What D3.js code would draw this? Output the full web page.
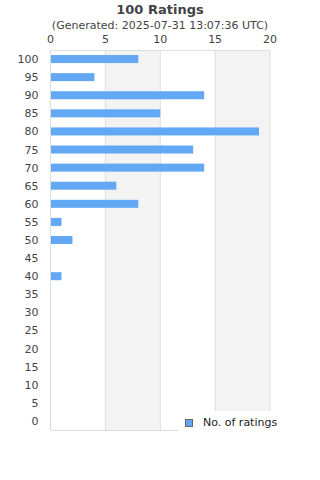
<!DOCTYPE html>
<html>
<head>
<meta charset="utf-8">
<script src="https://cdn.jsdelivr.net/npm/d3@7"></script>
<style>
  body { margin: 0; background: #fff; }
  svg { font-family: "DejaVu Sans", sans-serif; }
</style>
</head>
<body>
<div id="chart"></div>
<script>
// rating buckets, top to bottom
var ratings = [100, 95, 90, 85, 80, 75, 70, 65, 60, 55, 50, 45, 40, 35, 30, 25, 20, 15, 10, 5, 0];
var counts = [8, 4, 14, 10, 19, 13, 14, 6, 8, 1, 2, 0, 1, 0, 0, 0, 0, 0, 0, 0, 0];
var xTicks = [0, 5, 10, 15, 20];
var title = "100 Ratings";
var subtitle = "(Generated: 2025-07-31 13:07:36 UTC)";
var seriesName = "No. of ratings";

var width = 320, height = 480;
var margin = {top: 50, right: 50, bottom: 50, left: 50.5};

var svg = d3.select("#chart").append("svg")
    .attr("width", width)
    .attr("height", height);

var x = d3.scaleLinear()
    .domain([0, 20])
    .range([margin.left, width - margin.right]);

var y = d3.scaleBand()
    .domain(ratings)
    .range([margin.top, height - margin.bottom]);

// alternating background bands
var bands = [[5, 10], [15, 20]];
svg.append("g").selectAll("rect")
    .data(bands)
    .enter().append("rect")
    .attr("x", function(d) { return x(d[0]); })
    .attr("width", function(d) { return x(d[1]) - x(d[0]); })
    .attr("y", margin.top)
    .attr("height", height - margin.bottom - margin.top)
    .attr("fill", "#f3f3f3");

// grid lines
svg.append("g").selectAll("line")
    .data(xTicks)
    .enter().append("line")
    .attr("x1", function(d) { return x(d); })
    .attr("x2", function(d) { return x(d); })
    .attr("y1", margin.top)
    .attr("y2", height - margin.bottom)
    .attr("stroke", "#dddddd")
    .attr("stroke-width", 1);

// top & bottom border
svg.append("line")
    .attr("x1", x(0)).attr("x2", x(20))
    .attr("y1", margin.top + 0.5).attr("y2", margin.top + 0.5)
    .attr("stroke", "#dddddd");
svg.append("line")
    .attr("x1", x(0)).attr("x2", x(20))
    .attr("y1", height - margin.bottom + 0.5).attr("y2", height - margin.bottom + 0.5)
    .attr("stroke", "#dddddd");

// bars
var barH = 8;
svg.append("g").selectAll("rect")
    .data(counts)
    .enter().append("rect")
    .attr("x", x(0) + 0.5)
    .attr("y", function(d, i) { return y(ratings[i]) + y.bandwidth() / 2 - barH / 2; })
    .attr("width", function(d) { return Math.max(0, x(d) - x(0) - 0.5); })
    .attr("height", barH)
    .attr("fill", "#62a8f4");

// top axis labels
svg.append("g").selectAll("text")
    .data(xTicks)
    .enter().append("text")
    .attr("x", function(d) { return x(d); })
    .attr("y", 43)
    .attr("text-anchor", "middle")
    .attr("font-size", 11)
    .attr("fill", "#444")
    .text(function(d) { return d; });

// left labels
svg.append("g").selectAll("text")
    .data(ratings)
    .enter().append("text")
    .attr("x", 38.5)
    .attr("y", function(d) { return y(d) + y.bandwidth() / 2 + 4; })
    .attr("text-anchor", "end")
    .attr("font-size", 11)
    .attr("fill", "#444")
    .text(function(d) { return d; });

// titles
svg.append("text")
    .attr("x", 160).attr("y", 14)
    .attr("text-anchor", "middle")
    .attr("font-size", 13)
    .attr("font-weight", "bold")
    .attr("fill", "#444")
    .text(title);

svg.append("text")
    .attr("x", 160).attr("y", 29)
    .attr("text-anchor", "middle")
    .attr("font-size", 11)
    .attr("fill", "#444")
    .text(subtitle);

// legend
var legend = svg.append("g");
legend.append("rect")
    .attr("x", 178).attr("y", 411)
    .attr("width", 142).attr("height", 21)
    .attr("fill", "#fff");
legend.append("rect")
    .attr("x", 185.5).attr("y", 419.5)
    .attr("width", 7).attr("height", 7)
    .attr("fill", "#62a8f4")
    .attr("stroke", "#666");
legend.append("text")
    .attr("x", 203).attr("y", 426)
    .attr("font-size", 11)
    .attr("fill", "#222")
    .text(seriesName);
</script>
</body>
</html>
